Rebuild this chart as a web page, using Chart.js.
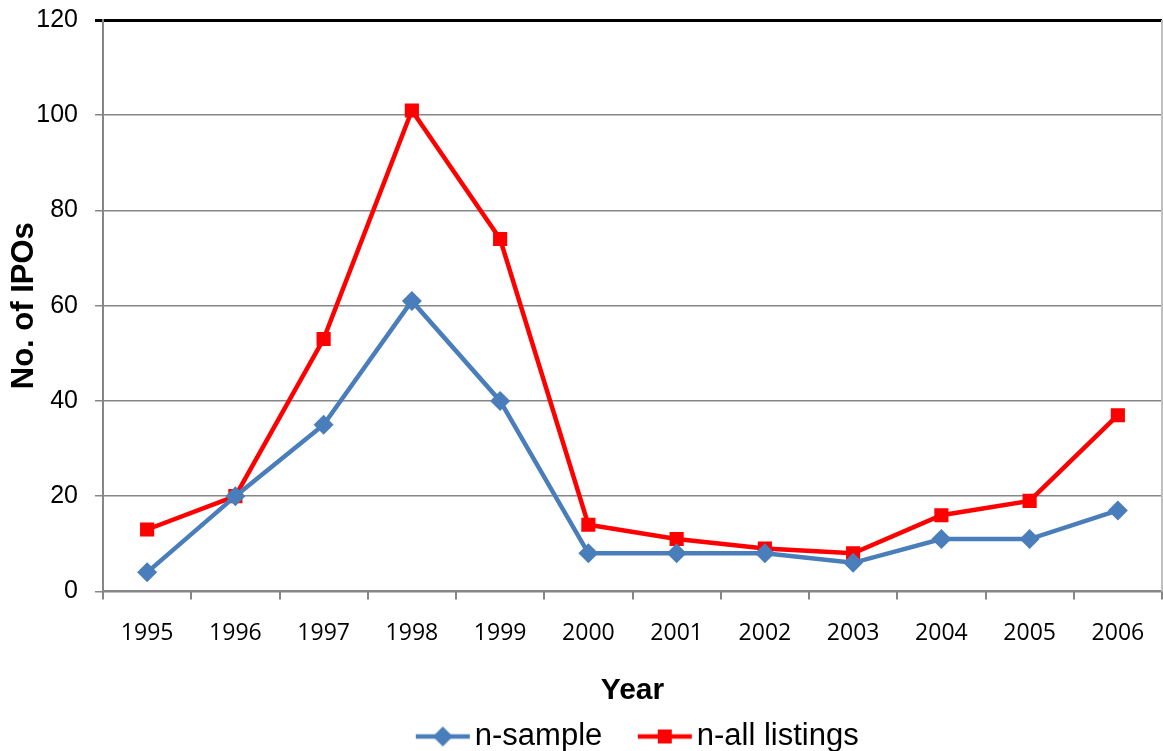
<!DOCTYPE html>
<html>
<head>
<meta charset="utf-8">
<script src="https://cdn.jsdelivr.net/npm/chart.js@4/dist/chart.umd.min.js"></script>
<style>
  html, body { margin: 0; padding: 0; background: #fff; }
  #wrap { width: 1163px; height: 751px; }
</style>
</head>
<body>
<div id="wrap"><canvas id="c" width="1163" height="751"></canvas></div>
<script>
// IPO counts per year
const years = ['1995','1996','1997','1998','1999','2000','2001','2002','2003','2004','2005','2006'];
const nSample = [4, 20, 35, 61, 40, 8, 8, 8, 6, 11, 11, 17];
const nAllListings = [13, 20, 53, 101, 74, 14, 11, 9, 8, 16, 19, 37];
const yTicks = [0, 20, 40, 60, 80, 100, 120];

const BLUE = '#4A7EBB';
const RED = '#FF0000';
const ARIAL = '"Liberation Sans", Arial, sans-serif';

// legend swatch: line with a marker in the middle, sitting at the right of the image
const SW_MARGIN = 20;
function swatch(color, shape) {
  const cv = document.createElement('canvas');
  cv.width = 56 + SW_MARGIN; cv.height = 22;
  const g = cv.getContext('2d');
  const x0 = SW_MARGIN;
  g.strokeStyle = color; g.lineWidth = 4.5;
  g.beginPath(); g.moveTo(x0 + 1, 11); g.lineTo(x0 + 55, 11); g.stroke();
  g.fillStyle = color;
  g.beginPath();
  if (shape === 'diamond') {
    g.moveTo(x0 + 28, 1); g.lineTo(x0 + 38, 11); g.lineTo(x0 + 28, 21); g.lineTo(x0 + 18, 11);
  } else {
    g.rect(x0 + 21, 4, 14, 14);
  }
  g.closePath(); g.fill();
  return cv;
}

const frame = {
  id: 'frame',
  afterDraw(chart) {
    const { ctx, chartArea: a } = chart;
    ctx.save();
    ctx.strokeStyle = '#BFBFBF'; ctx.lineWidth = 2;
    ctx.beginPath(); ctx.moveTo(a.right, a.top); ctx.lineTo(a.right, a.bottom); ctx.stroke();
    ctx.restore();
  }
};

new Chart(document.getElementById('c'), {
  type: 'line',
  data: {
    labels: years,
    datasets: [
      {
        label: 'n-sample',
        data: nSample,
        borderColor: BLUE,
        backgroundColor: BLUE,
        borderWidth: 4.5,
        pointStyle: 'rectRot',
        pointRadius: 10,
        pointHoverRadius: 10,
        pointBorderWidth: 0,
        tension: 0
      },
      {
        label: 'n-all listings',
        data: nAllListings,
        borderColor: RED,
        backgroundColor: RED,
        borderWidth: 4.5,
        pointStyle: 'rect',
        pointRadius: 10,
        pointHoverRadius: 10,
        pointBorderWidth: 0,
        tension: 0
      }
    ]
  },
  options: {
    responsive: false,
    animation: false,
    layout: { autoPadding: false, padding: { left: 0, right: 1, top: 20, bottom: -11 } },
    plugins: {
      tooltip: { enabled: false },
      legend: {
        position: 'bottom',
        fullSize: false,
        labels: {
          usePointStyle: true,
          pointStyleWidth: 56 + SW_MARGIN - 23,
          color: '#000',
          font: { family: ARIAL, size: 31 },
          padding: 26,
          generateLabels(chart) {
            return chart.data.datasets.map((ds, i) => ({
              text: ds.label,
              pointStyle: swatch(ds.borderColor, i === 0 ? 'diamond' : 'square'),
              fillStyle: ds.borderColor,
              strokeStyle: ds.borderColor,
              lineWidth: 0,
              hidden: false,
              datasetIndex: i
            }));
          }
        }
      }
    },
    scales: {
      x: {
        offset: true,
        afterFit(scale) { scale.paddingLeft = 0; scale.paddingRight = 0; },
        grid: {
          offset: true,
          drawOnChartArea: false,
          drawTicks: true,
          tickLength: 8,
          color: '#868686',
          lineWidth: 2
        },
        border: { color: '#868686', width: 2 },
        ticks: {
          color: '#000',
          padding: 20,
          maxRotation: 0,
          autoSkip: false,
          font: { family: '"Open Sans", sans-serif', size: 23 }
        },
        title: {
          display: true,
          text: 'Year',
          color: '#000',
          font: { family: ARIAL, size: 30, weight: 'bold' },
          padding: { top: 6, bottom: -14 }
        }
      },
      y: {
        min: 0,
        max: 120,
        afterBuildTicks(scale) { scale.ticks = yTicks.map(v => ({ value: v })); },
        afterFit(scale) { scale.width = 103; scale.paddingTop = 0; scale.paddingBottom = 0; },
        grid: {
          color: ctx => (ctx.tick && ctx.tick.value === 120) ? '#000' : '#868686',
          lineWidth: ctx => (ctx.tick && ctx.tick.value === 120) ? 3 : 1.5,
          tickLength: 8,
          drawTicks: true
        },
        border: { color: '#868686', width: 2 },
        ticks: {
          color: '#000',
          padding: 17,
          font: { family: ARIAL, size: 25 }
        },
        title: {
          display: true,
          text: 'No. of IPOs',
          color: '#000',
          font: { family: ARIAL, size: 31, weight: 'bold' },
          padding: { top: 6, bottom: 0 }
        }
      }
    }
  },
  plugins: [frame]
});
</script>
</body>
</html>
